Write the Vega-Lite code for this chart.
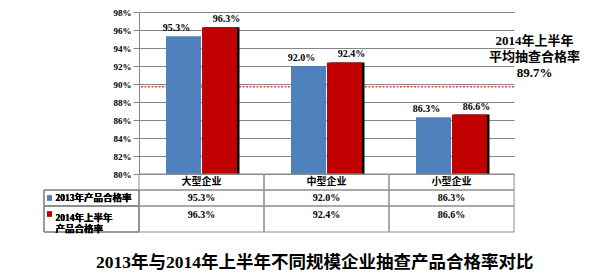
{
  "$schema": "https://vega.github.io/schema/vega-lite/v6.json",
  "background": "white",
  "padding": {"left": 43, "top": 8, "right": 0, "bottom": 0},
  "config": {
    "font": "Liberation Serif, Noto Sans CJK SC",
    "view": {"stroke": null},
    "text": {"fontWeight": "bold", "color": "black", "fontSize": 10},
    "axis": {"labelFontWeight": "bold", "labelColor": "black", "labelFontSize": 9, "domainColor": "#868686", "tickColor": "#868686", "gridColor": "#868686", "gridOpacity": 1, "labelOverlap": false}
  },
  "datasets": {
    "rates": [
      {"category": "大型企业", "series": "2013年产品合格率", "value": 0.953},
      {"category": "大型企业", "series": "2014年上半年\n产品合格率", "value": 0.963},
      {"category": "中型企业", "series": "2013年产品合格率", "value": 0.920},
      {"category": "中型企业", "series": "2014年上半年\n产品合格率", "value": 0.924},
      {"category": "小型企业", "series": "2013年产品合格率", "value": 0.863},
      {"category": "小型企业", "series": "2014年上半年\n产品合格率", "value": 0.866}
    ],
    "avg": [
      {"avg": 0.897, "note": "2014年上半年\n平均抽查合格率\n89.7%"}
    ]
  },
  "title": {
    "text": "2013年与2014年上半年不同规模企业抽查产品合格率对比",
    "orient": "bottom",
    "anchor": "middle",
    "fontSize": 17.5,
    "fontWeight": "bold",
    "color": "black",
    "offset": 21,
    "dx": 3
  },
  "columns": 2,
  "spacing": 0,
  "bounds": "flush",
  "align": "each",
  "concat": [
    {
      "width": 95,
      "height": 162,
      "data": {"values": []},
      "mark": "point"
    },
    {
      "width": 375,
      "height": 162,
      "data": {"name": "rates"},
      "resolve": {"scale": {"xOffset": "independent"}},
      "layer": [
        {
          "data": {"name": "avg"},
          "mark": {"type": "rule", "color": "#EE3B3B", "strokeWidth": 1.5, "strokeDash": [2, 1.5]},
          "encoding": {
            "y": {"field": "avg", "type": "quantitative", "title": null,
                  "scale": {"domain": [0.8, 0.98], "nice": false, "zero": false},
                  "axis": {"values": [0.8, 0.82, 0.84, 0.86, 0.88, 0.9, 0.92, 0.94, 0.96, 0.98], "tickCount": 12, "format": ".0%", "grid": true, "tickSize": 6, "labelPadding": 2, "labelOverlap": false}}
          }
        },
        {
          "transform": [{"filter": "datum.series != '2013年产品合格率'"}],
          "mark": {"type": "bar", "color": "black"},
          "encoding": {
            "x": {"field": "category", "type": "nominal", "sort": null, "title": null,
                  "scale": {"paddingInner": 0, "paddingOuter": 0},
                  "axis": {"labels": false, "ticks": false, "domain": true}},
            "xOffset": {"field": "series", "type": "nominal",
                        "scale": {"domain": ["2013年产品合格率", "2014年上半年\n产品合格率"], "paddingInner": 0.1463, "paddingOuter": 0.5976}},
            "y": {"field": "value", "type": "quantitative", "title": null,
                  "axis": {"values": [0.8, 0.82, 0.84, 0.86, 0.88, 0.9, 0.92, 0.94, 0.96, 0.98], "tickCount": 12, "format": ".0%", "grid": true, "tickSize": 6, "labelPadding": 2, "labelOverlap": false}},
            "y2": {"datum": 0.8}
          }
        },
        {
          "mark": {"type": "bar"},
          "encoding": {
            "x": {"field": "category", "type": "nominal", "sort": null, "title": null},
            "xOffset": {"field": "series", "type": "nominal",
                        "scale": {"domain": ["2013年产品合格率", "2014年上半年\n产品合格率"], "paddingInner": 0.028, "paddingOuter": 0.75}},
            "y": {"field": "value", "type": "quantitative", "title": null,
                  "axis": {"values": [0.8, 0.82, 0.84, 0.86, 0.88, 0.9, 0.92, 0.94, 0.96, 0.98], "tickCount": 12, "format": ".0%", "grid": true, "tickSize": 6, "labelPadding": 2, "labelOverlap": false}},
            "y2": {"datum": 0.8},
            "color": {"field": "series", "type": "nominal", "legend": null,
                      "scale": {"domain": ["2013年产品合格率", "2014年上半年\n产品合格率"], "range": ["#4F81BD", "#C00000"]}}
          }
        },
        {
          "mark": {"type": "text", "baseline": "bottom", "dy": -3, "fontSize": 10},
          "encoding": {
            "x": {"field": "category", "type": "nominal", "sort": null, "title": null},
            "xOffset": {"field": "series", "type": "nominal",
                        "scale": {"domain": ["2013年产品合格率", "2014年上半年\n产品合格率"], "paddingInner": 0.028, "paddingOuter": 0.75}},
            "y": {"field": "value", "type": "quantitative", "title": null,
                  "axis": {"values": [0.8, 0.82, 0.84, 0.86, 0.88, 0.9, 0.92, 0.94, 0.96, 0.98], "tickCount": 12, "format": ".0%", "grid": true, "tickSize": 6, "labelPadding": 2, "labelOverlap": false}},
            "text": {"field": "value", "type": "quantitative", "format": ".1%"}
          }
        },
        {
          "data": {"name": "avg"},
          "mark": {"type": "text", "baseline": "bottom", "lineBreak": "\n", "lineHeight": 16.3, "fontSize": 13, "dx": 83, "dy": -39},
          "encoding": {
            "x": {"datum": "小型企业", "type": "nominal"},
            "y": {"field": "avg", "type": "quantitative", "title": null,
                  "axis": {"values": [0.8, 0.82, 0.84, 0.86, 0.88, 0.9, 0.92, 0.94, 0.96, 0.98], "tickCount": 12, "format": ".0%", "grid": true, "tickSize": 6, "labelPadding": 2, "labelOverlap": false}},
            "text": {"field": "note"}
          }
        }
      ]
    },
    {
      "width": 95,
      "height": 32,
      "data": {"name": "rates"},
      "transform": [{"filter": "datum.series == '2013年产品合格率'"}],
      "encoding": {
        "y": {"field": "series", "type": "nominal", "axis": null,
              "scale": {"domain": ["表头", "2013年产品合格率"], "paddingInner": 0, "paddingOuter": 0}}
      },
      "layer": [
        {"mark": {"type": "rect", "fill": "white", "fillOpacity": 0, "stroke": "#8c8c8c", "strokeWidth": 1}},
        {"mark": {"type": "square", "size": 25, "xOffset": -42, "opacity": 1},
         "encoding": {"color": {"field": "series", "type": "nominal", "legend": null,
                                "scale": {"domain": ["2013年产品合格率", "2014年上半年\n产品合格率"], "range": ["#4F81BD", "#C00000"]}}}},
        {"mark": {"type": "text", "align": "left", "dx": -36, "fontSize": 9.5},
         "encoding": {"text": {"field": "series"}}}
      ]
    },
    {
      "width": 375,
      "height": 32,
      "data": {"name": "rates"},
      "transform": [{"filter": "datum.series == '2013年产品合格率'"}],
      "encoding": {
        "x": {"field": "category", "type": "nominal", "sort": null, "axis": null,
              "scale": {"paddingInner": 0, "paddingOuter": 0}}
      },
      "layer": [
        {"mark": {"type": "rect", "fill": "white", "fillOpacity": 0, "stroke": "#8c8c8c", "strokeWidth": 1},
         "encoding": {"y": {"datum": "表头", "type": "nominal", "axis": null,
                            "scale": {"domain": ["表头", "2013年产品合格率"], "paddingInner": 0, "paddingOuter": 0}}}},
        {"mark": {"type": "rect", "fill": "white", "fillOpacity": 0, "stroke": "#8c8c8c", "strokeWidth": 1},
         "encoding": {"y": {"field": "series", "type": "nominal", "axis": null}}},
        {"mark": {"type": "text", "fontSize": 10},
         "encoding": {"y": {"datum": "表头", "type": "nominal"}, "text": {"field": "category"}}},
        {"mark": {"type": "text", "fontSize": 10},
         "encoding": {"y": {"field": "series", "type": "nominal"}, "text": {"field": "value", "type": "quantitative", "format": ".1%"}}}
      ]
    },
    {
      "width": 95,
      "height": 26,
      "data": {"name": "rates"},
      "transform": [{"filter": "datum.series != '2013年产品合格率'"}],
      "encoding": {
        "y": {"field": "series", "type": "nominal", "axis": null,
              "scale": {"paddingInner": 0, "paddingOuter": 0}}
      },
      "layer": [
        {"mark": {"type": "rect", "fill": "white", "fillOpacity": 0, "stroke": "#8c8c8c", "strokeWidth": 1}},
        {"mark": {"type": "square", "size": 25, "xOffset": -42, "yOffset": -5, "opacity": 1},
         "encoding": {"color": {"field": "series", "type": "nominal", "legend": null,
                                "scale": {"domain": ["2013年产品合格率", "2014年上半年\n产品合格率"], "range": ["#4F81BD", "#C00000"]}}}},
        {"mark": {"type": "text", "align": "left", "dx": -36, "dy": -1.3, "fontSize": 9.5, "lineBreak": "\n", "lineHeight": 11},
         "encoding": {"text": {"field": "series"}}}
      ]
    },
    {
      "width": 375,
      "height": 26,
      "data": {"name": "rates"},
      "transform": [{"filter": "datum.series != '2013年产品合格率'"}],
      "encoding": {
        "x": {"field": "category", "type": "nominal", "sort": null, "axis": null,
              "scale": {"paddingInner": 0, "paddingOuter": 0}},
        "y": {"field": "series", "type": "nominal", "axis": null,
              "scale": {"paddingInner": 0, "paddingOuter": 0}}
      },
      "layer": [
        {"mark": {"type": "rect", "fill": "white", "fillOpacity": 0, "stroke": "#8c8c8c", "strokeWidth": 1}},
        {"mark": {"type": "text", "fontSize": 10, "dy": -4},
         "encoding": {"text": {"field": "value", "type": "quantitative", "format": ".1%"}}}
      ]
    }
  ]
}
